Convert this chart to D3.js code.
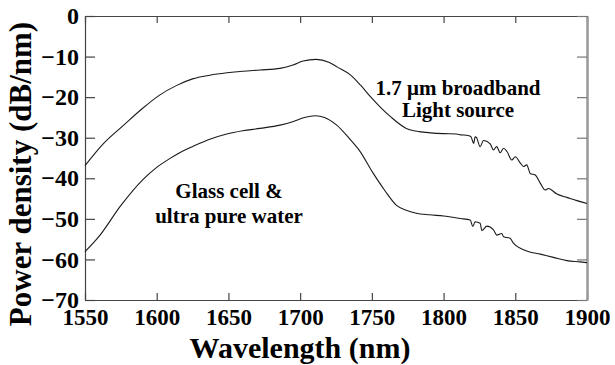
<!DOCTYPE html>
<html>
<head>
<meta charset="utf-8">
<script src="https://cdn.jsdelivr.net/npm/d3@7"></script>
<style>
  body { margin: 0; background: #fff; }
  svg { display: block; }
  text { font-family: "Liberation Serif", "Times New Roman", serif; font-weight: bold; fill: #000; }
</style>
</head>
<body>
<svg width="615" height="365"></svg>
<script>
// wavelength (nm) and power density (dB/nm)
const sourceWl = [1550, 1563, 1577, 1590, 1602, 1614, 1625, 1637, 1649, 1660, 1672, 1686, 1695, 1702, 1711, 1720, 1726, 1735, 1742, 1749, 1756, 1763, 1774, 1783, 1791, 1800, 1809, 1812, 1816, 1819, 1821, 1822, 1823, 1825.5, 1827.8, 1832.5, 1834.8, 1837, 1839.5, 1841.8, 1844.2, 1847.6, 1850, 1853.4, 1855.7, 1858, 1860.4, 1863.9, 1867.4, 1870.9, 1873.1, 1879, 1886, 1893, 1900];
const sourceDb = [-36.9, -31.4, -26.9, -22.8, -19.5, -17.1, -15.5, -14.6, -14.0, -13.6, -13.3, -12.9, -12.1, -11.1, -10.7, -11.4, -12.6, -14.5, -17.0, -19.9, -22.5, -24.8, -27.7, -28.5, -28.8, -29.0, -29.1, -29.3, -29.4, -29.7, -31.4, -29.8, -30.0, -32.2, -30.7, -31.5, -33.0, -32.2, -33.7, -32.6, -33.4, -35.5, -34.7, -36.2, -37.1, -36.7, -38.8, -39.2, -41.2, -42.9, -42.5, -43.9, -44.7, -45.5, -46.2];

const waterWl = [1550, 1560.5, 1574.4, 1590.7, 1600, 1609.3, 1618.6, 1625.5, 1637, 1648.8, 1660, 1672, 1686, 1695.3, 1703, 1710.6, 1717, 1725.5, 1734.8, 1741, 1751, 1759, 1767, 1774, 1781, 1790, 1800, 1811.6, 1818.6, 1820.4, 1822, 1825.5, 1826.7, 1830.2, 1834.8, 1837.1, 1840.6, 1841.8, 1846.4, 1848.7, 1858, 1867.4, 1876.6, 1886, 1895.2, 1900];
const waterDb = [-58.1, -54.0, -47.0, -40.2, -37.3, -35.1, -33.2, -32.1, -30.4, -29.1, -28.3, -27.7, -26.9, -26.0, -25.0, -24.6, -25.0, -26.9, -30.4, -33.0, -38.8, -43.0, -46.6, -47.9, -48.6, -49.0, -49.3, -49.9, -50.3, -51.9, -50.7, -51.1, -52.9, -51.8, -52.7, -54.0, -53.6, -54.4, -54.8, -56.0, -57.9, -58.7, -59.5, -60.3, -60.6, -60.8];

const xTicks = [1550, 1600, 1650, 1700, 1750, 1800, 1850, 1900];
const yTicks = [0, -10, -20, -30, -40, -50, -60, -70];

const svg = d3.select("svg");
const mLeft = 85, mTop = 16, mRight = 587, mBottom = 300;

let x = d3.scaleLinear().domain([1550, 1900]).range([mLeft, mRight]);
let y = d3.scaleLinear().domain([-70, 0]).range([mBottom, mTop]);

// frame with inward ticks on all sides
let gx = svg.append("g")
    .attr("transform", `translate(0,${mBottom})`)
    .call(d3.axisBottom(x).tickValues(xTicks).tickSizeInner(-7).tickSizeOuter(0).tickPadding(9).tickFormat(d3.format("d")));
let gxt = svg.append("g")
    .attr("transform", `translate(0,${mTop})`)
    .call(d3.axisTop(x).tickValues(xTicks).tickSizeInner(-7).tickSizeOuter(0).tickFormat(""));
let gy = svg.append("g")
    .attr("transform", `translate(${mLeft},0)`)
    .call(d3.axisLeft(y).tickValues(yTicks).tickSizeInner(-10).tickSizeOuter(0).tickPadding(6).tickFormat(d3.format("d")));
let gyr = svg.append("g")
    .attr("transform", `translate(${mRight},0)`)
    .call(d3.axisRight(y).tickValues(yTicks).tickSizeInner(-10).tickSizeOuter(0).tickFormat(""));

[gx, gxt, gy].forEach(g => {
    g.select(".domain").attr("stroke", "#444").attr("stroke-width", 1.2);
    g.selectAll(".tick line").attr("stroke", "#444").attr("stroke-width", 1.2);
});
gyr.select(".domain").attr("stroke", "#999").attr("stroke-width", 2.5);
gyr.selectAll(".tick line").attr("stroke", "#777").attr("stroke-width", 1.2);

gy.selectAll(".tick text")
    .attr("font-size", "24px")
    .attr("fill", "#000");
gx.selectAll(".tick text")
    .attr("font-size", "23px")
    .attr("fill", "#000");

// spectra
const line = d3.line()
    .x(d => x(d[0]))
    .y(d => y(d[1]))
    .curve(d3.curveMonotoneX);

svg.append("path")
    .datum(d3.zip(sourceWl, sourceDb))
    .attr("fill", "none")
    .attr("stroke", "#1a1a1a")
    .attr("stroke-width", 1.1)
    .attr("d", line);

svg.append("path")
    .datum(d3.zip(waterWl, waterDb))
    .attr("fill", "none")
    .attr("stroke", "#1a1a1a")
    .attr("stroke-width", 1.1)
    .attr("d", line);

// axis titles
svg.append("text")
    .attr("x", 300).attr("y", 358)
    .attr("text-anchor", "middle")
    .attr("font-size", "30px")
    .text("Wavelength (nm)");

svg.append("text")
    .attr("transform", "translate(31,174) rotate(-90)")
    .attr("text-anchor", "middle")
    .attr("font-size", "31px")
    .text("Power density (dB/nm)");

// annotations
const notes = [
    {t: "1.7 \u03bcm broadband", x: 458, y: 95},
    {t: "Light source", x: 458, y: 117},
    {t: "Glass cell &", x: 229, y: 198},
    {t: "ultra pure water", x: 229, y: 223}
];
svg.selectAll(".note")
    .data(notes)
    .enter()
    .append("text")
    .attr("class", "note")
    .attr("x", d => d.x)
    .attr("y", d => d.y)
    .attr("text-anchor", "middle")
    .attr("font-size", "21px")
    .text(d => d.t);
</script>
</body>
</html>
